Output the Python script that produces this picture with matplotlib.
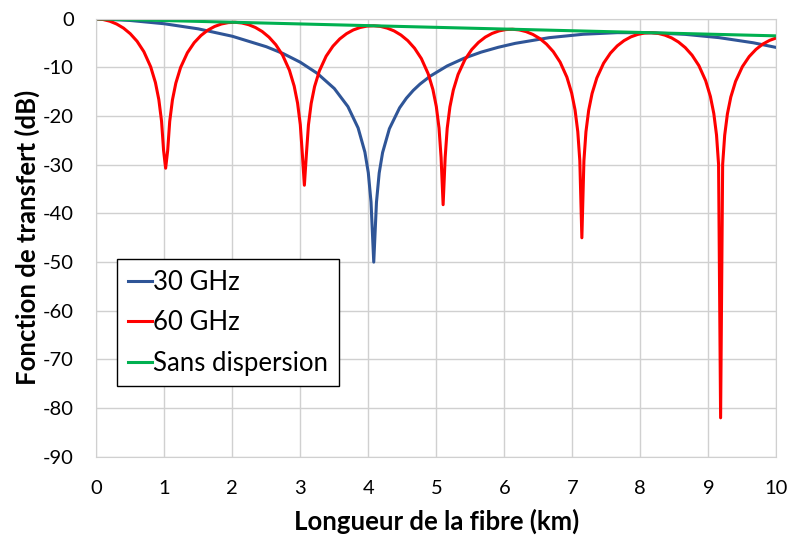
import matplotlib.pyplot as plt

# 60 GHz (red)
x_60 = [0, 0.10, 0.20, 0.30, 0.40, 0.50, 0.60, 0.70, 0.80, 0.87, 0.92, 0.96, 0.99, 1.02,
        1.05, 1.08, 1.12, 1.17, 1.24, 1.34, 1.44, 1.54, 1.64, 1.74, 1.84, 1.94, 2.04,
        2.14, 2.24, 2.34, 2.44, 2.54, 2.64, 2.74, 2.84, 2.91, 2.96, 3.00, 3.03, 3.06,
        3.09, 3.12, 3.16, 3.21, 3.28, 3.38, 3.48, 3.58, 3.68, 3.78, 3.88, 3.98, 4.08,
        4.18, 4.28, 4.38, 4.48, 4.58, 4.68, 4.78, 4.88, 4.95, 5.00, 5.04, 5.07, 5.10,
        5.13, 5.16, 5.20, 5.25, 5.32, 5.42, 5.52, 5.62, 5.72, 5.82, 5.92, 6.02, 6.12,
        6.22, 6.32, 6.42, 6.52, 6.62, 6.72, 6.82, 6.92, 6.99, 7.04, 7.08, 7.11, 7.14,
        7.17, 7.20, 7.24, 7.29, 7.36, 7.46, 7.56, 7.66, 7.76, 7.86, 7.96, 8.06, 8.16,
        8.26, 8.36, 8.46, 8.56, 8.66, 8.76, 8.86, 8.96, 9.03, 9.08, 9.12, 9.15, 9.18,
        9.21, 9.24, 9.28, 9.33, 9.40, 9.50, 9.60, 9.70, 9.80, 9.90, 10.00]
y_60 = [0, -0.14, -0.49, -1.07, -1.90, -3.06, -4.61, -6.75, -9.85, -13.10, -16.60, -21.04, -27.05, -30.7,
        -27.07, -21.08, -16.67, -13.21, -10.00, -6.97, -4.90, -3.42, -2.33, -1.57, -1.06, -0.78, -0.71,
        -0.85, -1.20, -1.78, -2.61, -3.77, -5.32, -7.46, -10.56, -13.82, -17.32, -21.75, -27.76, -34.2,
        -27.78, -21.79, -17.39, -13.92, -10.72, -7.68, -5.62, -4.13, -3.05, -2.28, -1.78, -1.49, -1.43,
        -1.56, -1.92, -2.49, -3.33, -4.48, -6.04, -8.17, -11.28, -14.53, -18.03, -22.46, -28.47, -38.2,
        -28.50, -22.51, -18.10, -14.64, -11.43, -8.40, -6.33, -4.85, -3.76, -3.00, -2.49, -2.21, -2.14,
        -2.28, -2.63, -3.21, -4.04, -5.20, -6.75, -8.89, -11.99, -15.25, -18.74, -23.18, -29.19, -45.0,
        -29.21, -23.22, -18.81, -15.35, -12.15, -9.11, -7.05, -5.56, -4.48, -3.71, -3.21, -2.92, -2.86,
        -2.99, -3.35, -3.92, -4.76, -5.91, -7.47, -9.60, -12.71, -15.96, -19.46, -23.89, -29.90, -82.0,
        -29.92, -23.93, -19.53, -16.07, -12.86, -9.83, -7.76, -6.28, -5.19, -4.43, -3.92]

# 30 GHz (blue)
x_30 = [0, 0.5, 1.0, 1.5, 2.0, 2.5, 2.75, 3.0, 3.25, 3.5, 3.7, 3.85, 3.95, 4.0, 4.04, 4.08,
        4.12, 4.16, 4.21, 4.31, 4.46, 4.56, 4.66, 4.76, 4.91, 5.16, 5.41, 5.66, 5.91, 6.16,
        6.66, 7.16, 7.66, 8.16, 8.66, 9.16, 9.66, 10.0]
y_30 = [0, -0.34, -1.01, -2.06, -3.58, -5.73, -7.15, -8.92, -11.21, -14.32, -18.03, -22.42, -27.40, -31.63, -37.66, -50.0,
        -37.69, -31.69, -27.49, -22.58, -18.29, -16.31, -14.72, -13.41, -11.78, -9.68, -8.09, -6.84, -5.85, -5.04,
        -3.87, -3.17, -2.84, -2.86, -3.19, -3.87, -4.92, -5.89]

# sans dispersion (green)
x_ref = [0, 2, 4, 6, 8, 10]
y_ref = [0, -0.7, -1.4, -2.1, -2.8, -3.5]

plt.rcParams['font.family'] = ['Lato', 'DejaVu Sans']
plt.rcParams['axes.unicode_minus'] = False

fig = plt.figure(figsize=(7.89, 5.38), dpi=100)
ax = fig.add_axes([0.122, 0.151, 0.862, 0.814])

ax.plot(x_30, y_30, color='#2F5597', lw=2.2, label='30 GHz')
ax.plot(x_60, y_60, color='#FF0000', lw=2.2, label='60 GHz')
ax.plot(x_ref, y_ref, color='#00B050', lw=2.2, label='Sans dispersion')

ax.set_xlim(0, 10)
ax.set_ylim(-90, 0)
ax.set_xticks(range(0, 11))
ax.set_yticks(range(-90, 1, 10))
ax.grid(True, color='#D0D0D0', lw=1.0)
ax.set_axisbelow(True)
for s in ax.spines.values():
    s.set_color('#D0D0D0')
ax.tick_params(length=0, labelsize=14.5)
ax.tick_params(axis='x', pad=17)
ax.tick_params(axis='y', pad=16)

ax.set_xlabel('Longueur de la fibre (km)', fontsize=18.5, fontweight='bold', labelpad=8)
ax.set_ylabel('Fonction de transfert (dB)', fontsize=18.5, fontweight='bold', labelpad=2)

leg = ax.legend(loc='lower left', bbox_to_anchor=(0.031, 0.162), fontsize=18.5,
                handlelength=0.95, handletextpad=0.05, labelspacing=0.6,
                fancybox=False, edgecolor='black', framealpha=1, borderpad=0.4,
                borderaxespad=0)
leg.get_frame().set_linewidth(1.0)

fig.savefig('out.png', dpi=100)
